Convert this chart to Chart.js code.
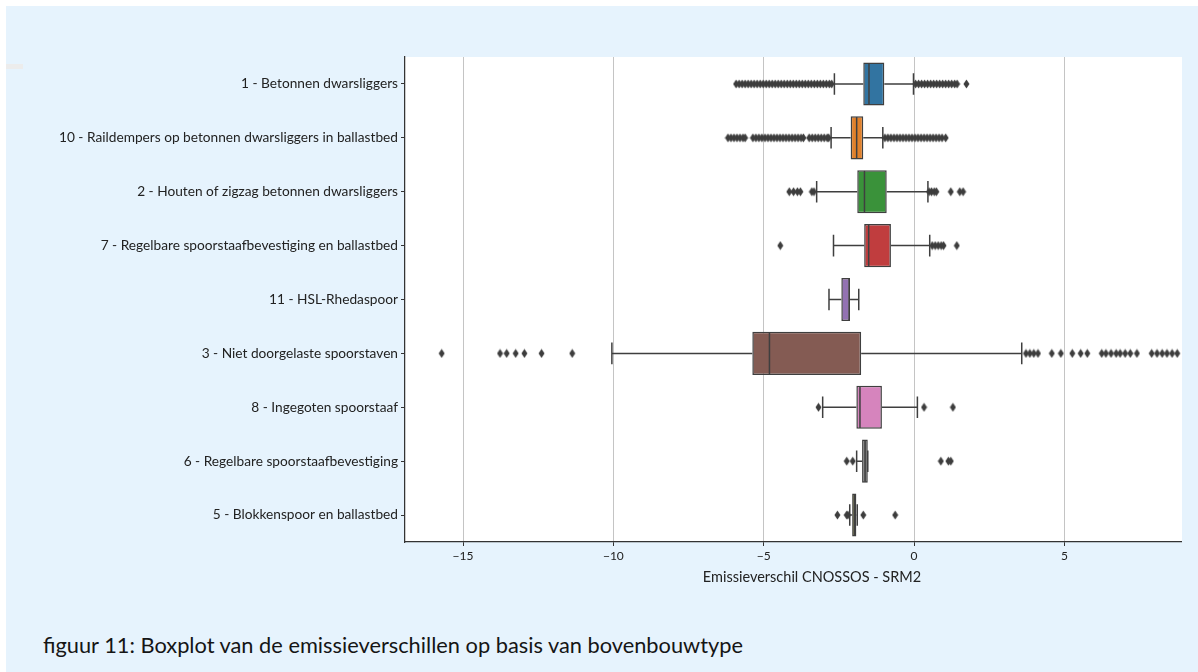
<!DOCTYPE html>
<html>
<head>
<meta charset="utf-8">
<script src="https://cdn.jsdelivr.net/npm/chart.js@4.4.1/dist/chart.umd.min.js"></script>
<style>
  html, body { margin: 0; padding: 0; background: #ffffff; width: 1198px; height: 672px; overflow: hidden; }
  #bg { position: absolute; left: 6px; top: 6px; width: 1192px; height: 666px; background: #e6f3fd; }
  #mark { position: absolute; left: 6px; top: 64px; width: 17px; height: 5px; background: #ececec; }
  #wrap { position: absolute; left: 0; top: 0; width: 1198px; height: 600px; overflow: hidden; }
  #crop { position: absolute; left: 1182px; top: 6px; width: 16px; height: 594px; background: #e6f3fd; }
  #cap { position: absolute; left: 43px; top: 634px; font-family: Lato, sans-serif; font-size: 21.8px; line-height: 21px; color: #151515; white-space: nowrap; }
</style>
</head>
<body>
<div id="bg"></div>
<div id="mark"></div>
<div id="wrap"><canvas id="c" width="1240" height="600"></canvas></div>
<div id="crop"></div>
<div id="cap">figuur 11: Boxplot van de emissieverschillen op basis van bovenbouwtype</div>
<script>
const categories = [
  '1 - Betonnen dwarsliggers',
  '10 - Raildempers op betonnen dwarsliggers in ballastbed',
  '2 - Houten of zigzag betonnen dwarsliggers',
  '7 - Regelbare spoorstaafbevestiging en ballastbed',
  '11 - HSL-Rhedaspoor',
  '3 - Niet doorgelaste spoorstaven',
  '8 - Ingegoten spoorstaaf',
  '6 - Regelbare spoorstaafbevestiging',
  '5 - Blokkenspoor en ballastbed'
];
const q1          = [-1.69, -2.11, -1.89, -1.66, -2.42, -5.38, -1.92, -1.73, -2.06];
const median      = [-1.50, -1.91, -1.65, -1.51, -2.16, -4.81, -1.80, -1.63, -1.99];
const q3          = [-0.99, -1.69, -0.91, -0.77, -2.13, -1.76, -1.07, -1.54, -1.92];
const whiskerLow  = [-2.65, -2.76, -3.24, -2.68, -2.83, -10.05, -3.04, -1.91, -2.14];
const whiskerHigh = [-0.02, -1.04, 0.46, 0.52, -1.84, 3.58, 0.11, -1.54, -1.89];

const outliers1 = [-5.92, -5.82, -5.72, -5.62, -5.52, -5.42, -5.32, -5.22, -5.12, -5.02, -4.92, -4.82, -4.72, -4.62, -4.52, -4.42, -4.32, -4.22, -4.12, -4.02, -3.92, -3.82, -3.72, -3.62, -3.52, -3.42, -3.32, -3.22, -3.12, -3.02, -2.92, -2.82, -2.74,
  0.05, 0.15, 0.25, 0.35, 0.45, 0.55, 0.65, 0.75, 0.85, 0.95, 1.05, 1.15, 1.25, 1.35, 1.43, 1.74];
const outliers2 = [-6.19, -6.09, -5.99, -5.89, -5.79, -5.69, -5.62, -5.36, -5.26, -5.16, -5.06, -4.96, -4.86, -4.76, -4.66, -4.56, -4.46, -4.36, -4.26, -4.16, -4.06, -3.96, -3.86, -3.76, -3.68, -3.49, -3.39, -3.29, -3.19, -3.09, -2.99, -2.89, -2.84,
  -0.97, -0.87, -0.77, -0.67, -0.57, -0.47, -0.37, -0.27, -0.17, -0.07, 0.03, 0.13, 0.23, 0.33, 0.43, 0.53, 0.63, 0.73, 0.83, 0.93, 1.05];
const outliers3 = [-4.15, -4.01, -3.88, -3.78, -3.40, -3.33, 0.50, 0.58, 0.67, 0.74, 1.22, 1.52, 1.63];
const outliers4 = [-4.45, 0.60, 0.70, 0.80, 0.90, 0.98, 1.42];
const outliers5 = [];
const outliers6 = [-15.71, -13.77, -13.55, -13.25, -12.96, -12.39, -11.37,
  3.72, 3.85, 3.98, 4.12, 4.58, 4.88, 5.26, 5.54, 5.76, 6.24, 6.38, 6.55, 6.72, 6.85, 7.02, 7.19, 7.41, 7.90, 8.08, 8.25, 8.41, 8.58, 8.75];
const outliers7 = [-3.18, 0.33, 1.29];
const outliers8 = [-2.24, -2.04, 0.89, 1.14, 1.22];
const outliers9 = [-2.55, -2.24, -2.20, -1.69, -0.63];
const outliers = [outliers1, outliers2, outliers3, outliers4, outliers5, outliers6, outliers7, outliers8, outliers9];

const xTicks = [-15, -10, -5, 0, 5];
const boxColors = ['#3274a1', '#e1812c', '#3a923a', '#c03d3e', '#9372b2', '#845b53', '#d684bd', '#7f7f7f', '#a9aa35'];
const lineColor = '#3f3f3f';

// thin diamond marker
const diamond = document.createElement('canvas');
diamond.width = 7; diamond.height = 10;
(function () {
  const g = diamond.getContext('2d');
  g.fillStyle = '#3d3d3d';
  g.beginPath();
  g.moveTo(3.5, 0.5); g.lineTo(6.5, 5); g.lineTo(3.5, 9.5); g.lineTo(0.5, 5);
  g.closePath(); g.fill();
})();

const outlierPoints = [];
outliers.forEach((arr, i) => arr.forEach(v => outlierPoints.push({ x: v, y: categories[i] })));

function halfBox(chart) {
  const y = chart.scales.y;
  return Math.abs(y.getPixelForValue(1) - y.getPixelForValue(0)) * 0.8 / 2;
}

const bgPlugin = {
  id: 'bgPlugin',
  beforeDraw(chart) {
    const { ctx, chartArea: a } = chart;
    ctx.save();
    ctx.fillStyle = '#ffffff';
    ctx.fillRect(a.left, a.top, a.right - a.left, a.bottom - a.top);
    ctx.restore();
  }
};

const whiskerPlugin = {
  id: 'whiskerPlugin',
  beforeDatasetsDraw(chart) {
    const { ctx, scales: { x, y } } = chart;
    const hb = halfBox(chart);
    const cap = hb / 2;
    ctx.save();
    ctx.strokeStyle = lineColor;
    ctx.lineWidth = 1.5;
    categories.forEach((c, i) => {
      const yc = y.getPixelForValue(i);
      const xl = x.getPixelForValue(whiskerLow[i]);
      const x1 = x.getPixelForValue(q1[i]);
      const x3 = x.getPixelForValue(q3[i]);
      const xh = x.getPixelForValue(whiskerHigh[i]);
      ctx.beginPath();
      ctx.moveTo(xl, yc); ctx.lineTo(x1, yc);
      ctx.moveTo(x3, yc); ctx.lineTo(xh, yc);
      ctx.moveTo(xl, yc - cap); ctx.lineTo(xl, yc + cap);
      ctx.moveTo(xh, yc - cap); ctx.lineTo(xh, yc + cap);
      ctx.stroke();
    });
    ctx.restore();
  },
  afterDatasetDraw(chart, args) {
    if (args.index !== 0) return;
    const { ctx, scales: { x, y } } = chart;
    const hb = halfBox(chart);
    ctx.save();
    ctx.strokeStyle = lineColor;
    ctx.lineWidth = 1.5;
    categories.forEach((c, i) => {
      const yc = y.getPixelForValue(i);
      const xm = x.getPixelForValue(median[i]);
      ctx.beginPath();
      ctx.moveTo(xm, yc - hb + 0.75); ctx.lineTo(xm, yc + hb - 0.75);
      ctx.stroke();
    });
    ctx.restore();
  }
};

const fontFam = 'Lato, sans-serif';

new Chart(document.getElementById('c'), {
  data: {
    labels: categories,
    datasets: [
      {
        type: 'bar',
        data: categories.map((c, i) => [q1[i], q3[i]]),
        backgroundColor: boxColors,
        borderColor: lineColor,
        borderWidth: 1.5,
        borderSkipped: false,
        barPercentage: 0.8,
        categoryPercentage: 1.0,
        order: 2
      },
      {
        type: 'scatter',
        data: outlierPoints,
        pointStyle: diamond,
        pointRadius: 4,
        showLine: false,
        order: 1
      }
    ]
  },
  options: {
    indexAxis: 'y',
    responsive: false,
    animation: false,
    events: [],
    layout: { padding: { left: 0, right: 21, top: 57, bottom: 0 } },
    plugins: { legend: { display: false }, tooltip: { enabled: false } },
    scales: {
      x: {
        type: 'linear',
        position: 'bottom',
        min: -16.93,
        max: 10.14,
        afterBuildTicks(s) { s.ticks = xTicks.map(v => ({ value: v })); },
        afterFit(s) { s.height = 58; },
        ticks: {
          font: { family: fontFam, size: 12 },
          color: '#222222',
          padding: 3,
          maxRotation: 0,
          callback: v => (v < 0 ? '\u2212' + Math.abs(v) : String(v))
        },
        grid: { color: '#c4c4c4', lineWidth: 1, tickColor: '#333333', tickLength: 4 },
        border: { display: true, color: '#333333', width: 1.25 },
        title: {
          display: true,
          text: 'Emissieverschil CNOSSOS - SRM2',
          font: { family: fontFam, size: 14.5 },
          color: '#222222',
          padding: { top: 14, bottom: 14 }
        }
      },
      y: {
        type: 'category',
        labels: categories,
        offset: true,
        afterFit(s) { s.width = 405; },
        ticks: { font: { family: fontFam, size: 13.7 }, color: '#222222', padding: 3 },
        grid: { display: true, drawOnChartArea: false, drawTicks: true, tickLength: 4, tickColor: '#333333', offset: false },
        border: { display: true, color: '#333333', width: 1.25 }
      }
    }
  },
  plugins: [bgPlugin, whiskerPlugin]
});
</script>
</body>
</html>
